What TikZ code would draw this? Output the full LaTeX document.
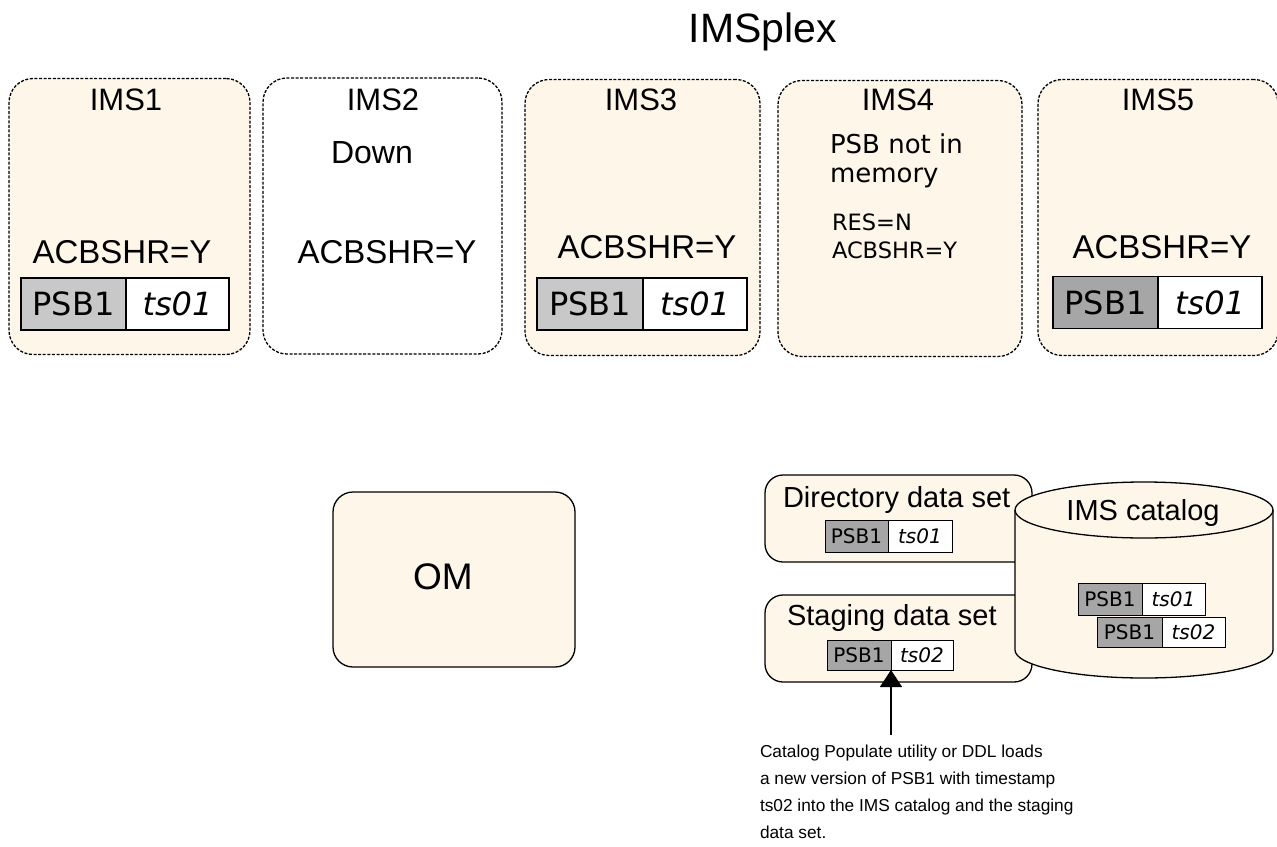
\documentclass[tikz,border=0pt]{standalone}
\usepackage{fontspec}
\setmainfont{Liberation Sans}
\newfontfamily\dejavu{DejaVu Sans}
\usetikzlibrary{arrows.meta,positioning}
\definecolor{cream}{RGB}{254,246,232}
\definecolor{psblight}{RGB}{200,200,200}
\definecolor{psbdark}{RGB}{166,166,166}
\newcommand{\fsz}[2]{\fontsize{#1}{#2}\selectfont}

\begin{document}
\begin{tikzpicture}[x=1pt,y=-1pt,node distance=0pt,inner sep=0pt,outer sep=0pt]
\tikzset{
  ims/.style={draw,dash pattern=on 3pt off 1.6pt,line width=1.3pt,rounded corners=24pt,
    fill=cream,minimum height=276pt},
  box/.style={draw,line width=1.3pt,rounded corners=20pt,fill=cream},
  lbl/.style={anchor=base,font=\fsz{31}{36}},
  psb/.style={draw,line width=1.2pt,fill=psblight,minimum height=52pt,
    font=\dejavu\fsz{32}{37},text height=23.3pt,text depth=0pt},
  ts/.style={psb,fill=white,font=\dejavu\itshape\fsz{32}{37}},
  spsb/.style={draw,line width=1pt,fill=psbdark,minimum height=32pt,
    font=\dejavu\fsz{20}{24},text height=14.6pt,text depth=0pt},
  sts/.style={spsb,fill=white,font=\dejavu\itshape\fsz{20}{24}},
  dslbl/.style={anchor=base west,font=\fsz{29}{34}}
}
\useasboundingbox (0,0) rectangle (1277,846);
\node[anchor=base,font=\fsz{41}{48}] (plex) at (763,42) {IMSplex};
\node[ims,minimum width=241pt] (ims1) at (129.5,216.5) {};
\node[ims,minimum width=239pt,fill=white] (ims2) at (382.5,216) {};
\node[ims,minimum width=235pt] (ims3) at (642.5,217.5) {};
\node[ims,minimum width=244pt] (ims4) at (900,218.5) {};
\node[ims,minimum width=240pt] (ims5) at (1158,217.5) {};
\node[lbl] (n1) at (126,110) {IMS1};
\node[lbl] (n2) at (383,110) {IMS2};
\node[lbl] (n3) at (641,110) {IMS3};
\node[lbl] (n4) at (898,110) {IMS4};
\node[lbl] (n5) at (1158,110) {IMS5};
\node[lbl,font=\fsz{32}{38}] (down) at (372,163) {Down};
\node[lbl,font=\fsz{33}{39}] (a1) at (122,263) {ACBSHR=Y};
\node[lbl,font=\fsz{33}{39}] (a2) at (387,263) {ACBSHR=Y};
\node[lbl,font=\fsz{33}{39}] (a3) at (647,258) {ACBSHR=Y};
\node[lbl,font=\fsz{33}{39}] (a5) at (1162,258) {ACBSHR=Y};
\node[anchor=base west,align=left,font=\dejavu\fsz{26}{29}] (mem) at (830,182)
  {PSB not in\\memory};
\node[anchor=base west,align=left,font=\dejavu\fsz{22.5}{28}] (res) at (832,258)
  {RES=N\\ACBSHR=Y};
\node[psb,minimum width=105pt] (p1) at (73.5,304) {PSB1};
\node[ts,minimum width=103pt,right=of p1] (t1) {ts01};
\node[psb,minimum width=106pt] (p3) at (590,304) {PSB1};
\node[ts,minimum width=104pt,right=of p3] (t3) {ts01};
\node[psb,minimum width=105pt,fill=psbdark] (p5) at (1105.5,302.5) {PSB1};
\node[ts,minimum width=104pt,right=of p5] (t5) {ts01};

\node[box,minimum width=242pt,minimum height=175pt] (om) at (454,579.5) {};
\node[font=\fsz{37}{44}] (omlbl) at (443,577) {OM};
\node[box,rounded corners=18pt,minimum width=267pt,minimum height=87pt] (dir) at (898.5,518.5) {};
\node[dslbl] (dirlbl) at (783,507) {Directory data set};
\node[spsb,minimum width=63pt] (dp) at (856.5,536) {PSB1};
\node[sts,minimum width=64pt,right=of dp] (dt) {ts01};
\node[box,rounded corners=18pt,minimum width=267pt,minimum height=87pt] (stg) at (898.5,638.5) {};
\node[dslbl] (stglbl) at (787,625) {Staging data set};
\node[spsb,minimum width=64pt,minimum height=30pt] (sp) at (859,655) {PSB1};
\node[sts,minimum width=62pt,minimum height=30pt,right=of sp] (st) {ts02};

\draw[line width=1.3pt,fill=cream] (1015,510) -- (1015,650)
  arc[start angle=180,end angle=0,x radius=129,y radius=28] -- (1273,510)
  arc[start angle=0,end angle=-180,x radius=129,y radius=28] -- cycle;
\draw[line width=1.3pt] (1015,510) arc[start angle=180,end angle=0,x radius=129,y radius=28];
\node[anchor=base,font=\fsz{29}{34}] (cat) at (1143,520) {IMS catalog};
\node[spsb,minimum width=64pt] (cp1) at (1110,599) {PSB1};
\node[sts,minimum width=63pt,right=of cp1] (ct1) {ts01};
\node[spsb,minimum width=65pt,minimum height=30pt] (cp2) at (1129.5,632) {PSB1};
\node[sts,minimum width=63pt,minimum height=30pt,right=of cp2] (ct2) {ts02};

\coordinate (tail) at (891,735);
\draw[-{Triangle[length=17pt,width=22pt]},line width=1.5pt] (tail) -- (sp.south east);
\node[anchor=base west,align=left,font=\fsz{17.3}{26.7}] (note) at (760,838)
  {Catalog Populate utility or DDL loads\\a new version of PSB1 with timestamp\\ts02 into the IMS catalog and the staging\\data set.};
\end{tikzpicture}
\end{document}
